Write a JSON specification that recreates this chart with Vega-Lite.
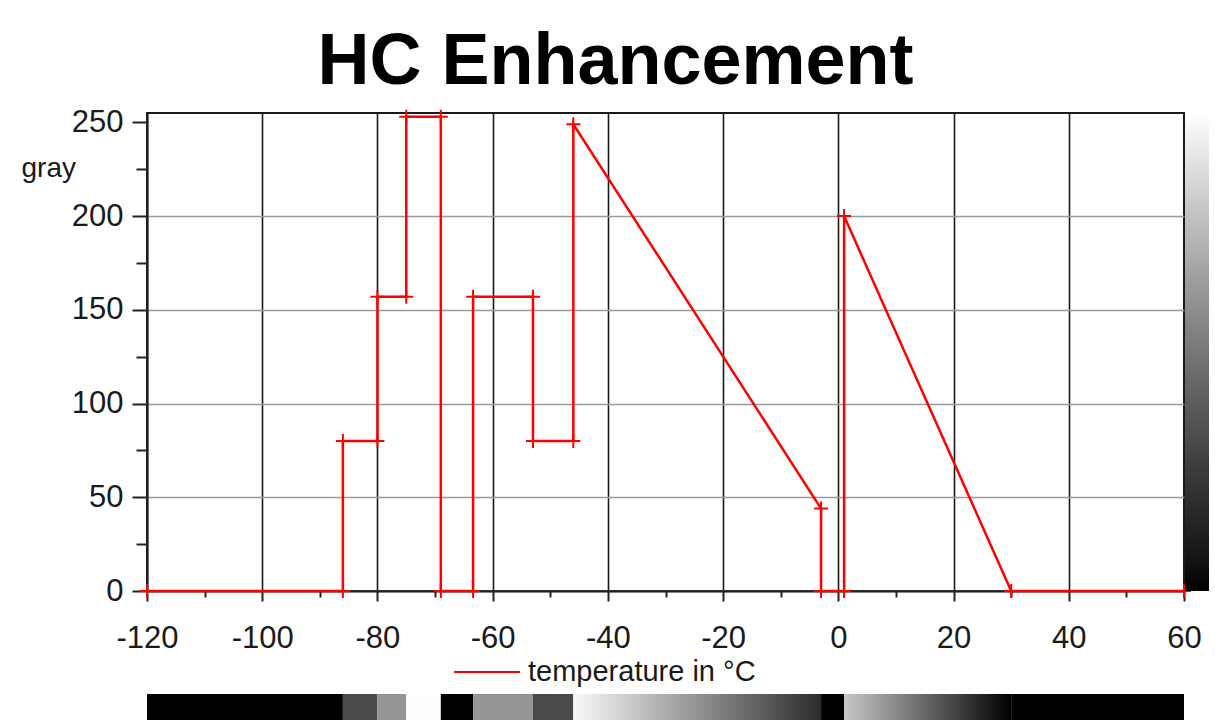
{
  "$schema": "https://vega.github.io/schema/vega-lite/v6.json",
  "background": "white",
  "padding": {"left": 20, "top": 25, "right": 0, "bottom": 0},
  "title": {"text": "HC Enhancement", "fontSize": 72, "font": "Liberation Sans", "fontWeight": "bold", "color": "#000000", "anchor": "middle", "frame": "bounds", "offset": 6},
  "datasets": {
    "curve": [
      {"i": 0, "t": -120, "g": 0},
      {"i": 1, "t": -86, "g": 0},
      {"i": 2, "t": -86, "g": 80},
      {"i": 3, "t": -80, "g": 80},
      {"i": 4, "t": -80, "g": 157},
      {"i": 5, "t": -75, "g": 157},
      {"i": 6, "t": -75, "g": 253},
      {"i": 7, "t": -69, "g": 253},
      {"i": 8, "t": -69, "g": 0},
      {"i": 9, "t": -63.4, "g": 0},
      {"i": 10, "t": -63.4, "g": 157},
      {"i": 11, "t": -53, "g": 157},
      {"i": 12, "t": -53, "g": 80},
      {"i": 13, "t": -46, "g": 80},
      {"i": 14, "t": -46, "g": 249},
      {"i": 15, "t": -3, "g": 44},
      {"i": 16, "t": -3, "g": 0},
      {"i": 17, "t": 1, "g": 0},
      {"i": 18, "t": 1, "g": 200},
      {"i": 19, "t": 30, "g": 0},
      {"i": 20, "t": 60, "g": 0}
    ],
    "bands": [
      {"t0": -120, "t1": -86, "g": 0},
      {"t0": -86, "t1": -80, "g": 80},
      {"t0": -80, "t1": -75, "g": 157},
      {"t0": -75, "t1": -69, "g": 253},
      {"t0": -69, "t1": -63.4, "g": 0},
      {"t0": -63.4, "t1": -53, "g": 157},
      {"t0": -53, "t1": -46, "g": 80},
      {"t0": -3, "t1": 1, "g": 0},
      {"t0": 30, "t1": 60, "g": 0}
    ],
    "ramps": [
      {"t0": -46, "t1": -3, "g0": 249, "g1": 44},
      {"t0": 1, "t1": 30, "g0": 200, "g1": 0}
    ]
  },
  "bounds": "flush",
  "spacing": 103,
  "vconcat": [
    {
      "width": 1037,
      "height": 478,
      "view": {"stroke": "#1a1a1a", "strokeWidth": 2},
      "data": {"name": "curve"},
      "encoding": {
        "x": {
          "field": "t", "type": "quantitative",
          "scale": {"domain": [-120, 60], "nice": false, "zero": false},
          "axis": {
            "values": [-120, -110, -100, -90, -80, -70, -60, -50, -40, -30, -20, -10, 0, 10, 20, 30, 40, 50, 60],
            "labelExpr": "datum.value % 20 === 0 ? '' + datum.value : ''",
            "title": null,
            "grid": true,
            "gridColor": "#1a1a1a",
            "gridWidth": 1.6,
            "gridOpacity": {"condition": {"test": "datum.value % 20 !== 0", "value": 0}, "value": 1},
            "tickSize": {"condition": {"test": "datum.value % 20 !== 0", "value": 6}, "value": 10},
            "tickColor": "#222222",
            "tickWidth": 2,
            "domainColor": "#222222",
            "domainWidth": 2,
            "labelFontSize": 31,
            "labelFont": "Liberation Sans",
            "labelColor": "#1a1a1a",
            "labelPadding": 22,
            "labelFlush": false,
            "labelOverlap": false
          }
        },
        "y": {
          "field": "g", "type": "quantitative",
          "scale": {"domain": [0, 255], "nice": false},
          "axis": {
            "values": [0, 25, 50, 75, 100, 125, 150, 175, 200, 225, 250],
            "labelExpr": "datum.value % 50 === 0 ? datum.label : ''",
            "title": "gray",
            "titleAngle": 0,
            "titleX": -126,
            "titleY": 55,
            "titleAlign": "left",
            "titleBaseline": "middle",
            "titleFontSize": 28,
            "titleFontWeight": "normal",
            "titleFont": "Liberation Sans",
            "titleColor": "#1a1a1a",
            "grid": true,
            "gridColor": "#9a9a9a",
            "gridWidth": 1.6,
            "gridOpacity": {"condition": {"test": "datum.value % 50 !== 0 || datum.value === 250", "value": 0}, "value": 1},
            "tickSize": {"condition": {"test": "datum.value % 50 !== 0", "value": 11}, "value": 15},
            "tickColor": "#222222",
            "tickWidth": 2,
            "domainColor": "#222222",
            "domainWidth": 2,
            "labelFontSize": 31,
            "labelFont": "Liberation Sans",
            "labelColor": "#1a1a1a",
            "labelPadding": 9,
            "labelFlush": false,
            "labelOverlap": false
          }
        }
      },
      "layer": [
        {
          "mark": {"type": "line", "strokeWidth": 2.5, "clip": false},
          "encoding": {
            "order": {"field": "i", "type": "quantitative"},
            "stroke": {
              "datum": "temperature in °C", "type": "nominal",
              "scale": {"range": ["#ff0000"]},
              "legend": {
                "title": null,
                "orient": "none",
                "legendX": 306,
                "legendY": 525,
                "symbolType": "stroke",
                "symbolSize": 4356,
                "symbolStrokeWidth": 2,
                "labelFontSize": 29,
                "labelFont": "Liberation Sans",
                "labelColor": "#1a1a1a",
                "labelOffset": 7,
                "labelLimit": 500,
                "padding": 0
              }
            }
          }
        },
        {
          "mark": {"type": "point", "shape": "M-1,0H1M0,-1V1", "filled": false, "size": 196, "strokeWidth": 2, "color": "#ff0000", "opacity": 1, "clip": false}
        }
      ]
    },
    {
      "width": 1037,
      "height": 30,
      "view": {"stroke": null},
      "layer": [
        {
          "data": {"name": "bands"},
          "mark": {"type": "rect"},
          "encoding": {
            "x": {"field": "t0", "type": "quantitative", "scale": {"domain": [-120, 60], "nice": false, "zero": false}, "axis": null},
            "x2": {"field": "t1"},
            "color": {
              "field": "g", "type": "quantitative",
              "scale": {"domain": [0, 255], "range": ["#000000", "#ffffff"]},
              "legend": {
                "title": null,
                "orient": "none",
                "legendX": 1038,
                "legendY": 0,
                "direction": "vertical",
                "gradientLength": 478,
                "gradientThickness": 24,
                "gradientStrokeWidth": 0,
                "labelExpr": "''",
                "labelFontSize": 1,
                "padding": 0
              }
            }
          }
        },
        {
          "data": {"name": "ramps"},
          "transform": [{"filter": "datum.t0 === -46"}],
          "mark": {"type": "rect", "color": {"gradient": "linear", "x1": 0, "y1": 0, "x2": 1, "y2": 0, "stops": [{"offset": 0, "color": "#f9f9f9"}, {"offset": 1, "color": "#2c2c2c"}]}},
          "encoding": {
            "x": {"field": "t0", "type": "quantitative"},
            "x2": {"field": "t1"}
          }
        },
        {
          "data": {"name": "ramps"},
          "transform": [{"filter": "datum.t0 === 1"}],
          "mark": {"type": "rect", "color": {"gradient": "linear", "x1": 0, "y1": 0, "x2": 1, "y2": 0, "stops": [{"offset": 0, "color": "#c8c8c8"}, {"offset": 1, "color": "#000000"}]}},
          "encoding": {
            "x": {"field": "t0", "type": "quantitative"},
            "x2": {"field": "t1"}
          }
        }
      ]
    }
  ],
  "config": {
    "view": {"stroke": null},
    "font": "Liberation Sans"
  }
}
